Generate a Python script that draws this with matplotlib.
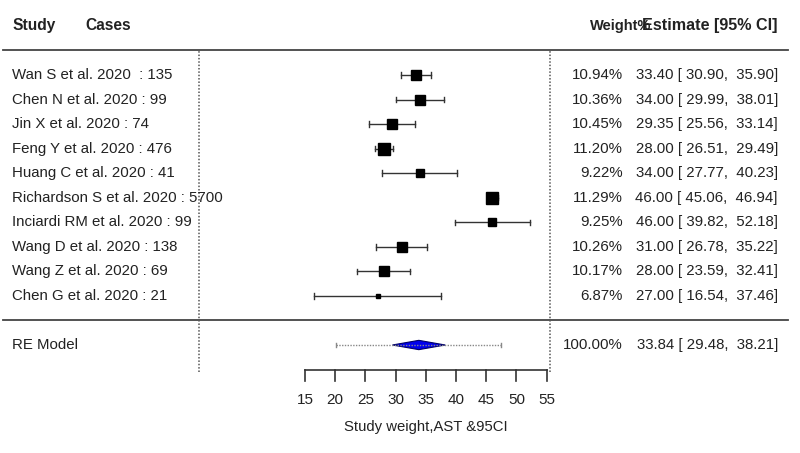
import matplotlib
matplotlib.use('Agg')
import matplotlib.pyplot as plt
import numpy as np

# données de la méta-analyse (AST)
etudes = ["Wan S et al. 2020  : 135", "Chen N et al. 2020 : 99", "Jin X et al. 2020 : 74",
          "Feng Y et al. 2020 : 476", "Huang C et al. 2020 : 41",
          "Richardson S et al. 2020 : 5700", "Inciardi RM et al. 2020 : 99",
          "Wang D et al. 2020 : 138", "Wang Z et al. 2020 : 69", "Chen G et al. 2020 : 21"]
estimation = [33.40, 34.00, 29.35, 28.00, 34.00, 46.00, 46.00, 31.00, 28.00, 27.00]
ic_bas = [30.90, 29.99, 25.56, 26.51, 27.77, 45.06, 39.82, 26.78, 23.59, 16.54]
ic_haut = [35.90, 38.01, 33.14, 29.49, 40.23, 46.94, 52.18, 35.22, 32.41, 37.46]
poids = [10.94, 10.36, 10.45, 11.20, 9.22, 11.29, 9.25, 10.26, 10.17, 6.87]

# modèle à effets aléatoires
re_est, re_bas, re_haut = 33.84, 29.48, 38.21
pi_bas, pi_haut = 20.2, 47.5  # intervalle de prédiction

ticks = [15, 20, 25, 30, 35, 40, 45, 50, 55]

plt.rcParams['font.family'] = ['Liberation Sans', 'DejaVu Sans']
couleur = '#222222'
fs = 10.8

fig = plt.figure(figsize=(8, 4.53), dpi=100)
ax = fig.add_axes([0, 0, 1, 1])
ax.set_xlim(-35.5, 96.95)
ax.set_ylim(-5.4, 13.055)
ax.axis('off')

k = len(etudes)
lignes = np.arange(k, 0, -1)

# lignes horizontales et verticales
ax.plot([-35.0, 95.0], [k + 1, k + 1], color='#444444', lw=1.3)
ax.plot([-35.0, 95.0], [0, 0], color='#444444', lw=1.3)
for xv in [-2.5, 55.6]:
    ax.plot([xv, xv], [-2.1, k + 1], color='#555555', lw=1.1, ls=(0, (1, 1.2)))

# tailles des carrés selon le poids
pmin, pmax = min(poids), max(poids)
for i in range(k):
    y = lignes[i]
    ax.plot([ic_bas[i], ic_haut[i]], [y, y], color='#333333', lw=1)
    for xc in [ic_bas[i], ic_haut[i]]:
        ax.plot([xc, xc], [y - 0.11, y + 0.11], color='#333333', lw=1)
    taille = 2.2 + (poids[i] - pmin) / (pmax - pmin) * 6.2
    ax.plot(estimation[i], y, marker='s', color='black', markersize=taille, mec='black')
    ax.text(-33.5, y, etudes[i], ha='left', va='center', fontsize=fs, color=couleur)
    ax.text(67.6, y, "%.2f%%" % poids[i], ha='right', va='center', fontsize=fs, color=couleur)
    ax.text(93.3, y, "%.2f [ %.2f,  %.2f]" % (estimation[i], ic_bas[i], ic_haut[i]),
            ha='right', va='center', fontsize=fs, color=couleur)

# modèle RE
y = -1
ax.plot([pi_bas, pi_haut], [y, y], color='#888888', lw=1, ls=(0, (1, 1)))
for xc in [pi_bas, pi_haut]:
    ax.plot([xc, xc], [y - 0.1, y + 0.1], color='#888888', lw=1)
ax.fill([re_bas, re_est, re_haut, re_est], [y, y + 0.19, y, y - 0.19],
        facecolor='#0000ee', edgecolor='#000066', lw=0.8)
ax.text(-33.5, y, "RE Model", ha='left', va='center', fontsize=fs, color=couleur)
ax.text(67.6, y, "100.00%", ha='right', va='center', fontsize=fs, color=couleur)
ax.text(93.3, y, "%.2f [ %.2f,  %.2f]" % (re_est, re_bas, re_haut),
        ha='right', va='center', fontsize=fs, color=couleur)

# en-tête
ax.text(-33.5, k + 2, "Study", ha='left', va='center', fontsize=11.2, fontweight='bold', color=couleur)
ax.text(-21.3, k + 2, "Cases", ha='left', va='center', fontsize=11.2, fontweight='bold', color=couleur)
ax.text(72.4, k + 2, "Weight%", ha='right', va='center', fontsize=10.5, fontweight='bold', color=couleur)
ax.text(93.3, k + 2, "Estimate [95% CI]", ha='right', va='center', fontsize=11.6, fontweight='bold', color=couleur)

# axe des x dessiné à la main
ax.plot([ticks[0], ticks[-1]], [-2, -2], color='#333333', lw=1.2)
for t in ticks:
    ax.plot([t, t], [-2, -2.45], color='#333333', lw=1.2)
    ax.text(t, -3.25, str(t), ha='center', va='center', fontsize=11, color=couleur)
ax.text(35, -4.35, "Study weight,AST &95CI", ha='center', va='center', fontsize=10.7, color=couleur)

plt.savefig("out.png", dpi=100)
